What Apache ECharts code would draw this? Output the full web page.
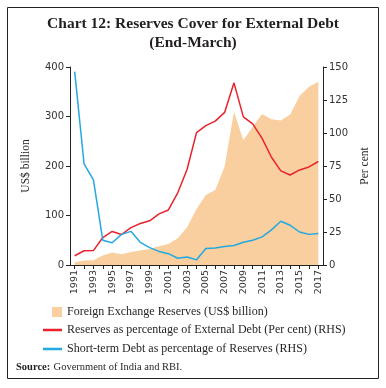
<!DOCTYPE html>
<html><head><meta charset="utf-8">
<script src="https://cdn.jsdelivr.net/npm/echarts@6/dist/echarts.min.js"></script>
<style>html,body{margin:0;padding:0;background:#fff}#c{width:386px;height:388px}</style>
</head><body><div id="c"></div>
<script>
const years = ['1991','1992','1993','1994','1995','1996','1997','1998','1999','2000','2001','2002','2003','2004','2005','2006','2007','2008','2009','2010','2011','2012','2013','2014','2015','2016','2017'];
const reserves = [5.8,9.2,9.8,19.3,25.2,21.7,26.4,29.4,32.5,38.0,42.3,54.1,76.1,113.0,141.5,151.6,199.2,309.7,252.0,279.1,304.8,294.4,292.0,304.2,341.6,360.2,370.0];
const reservesToDebt = [7.0,10.8,10.9,20.8,25.4,23.1,28.3,31.4,33.5,38.7,41.7,54.7,72.5,100.3,105.6,109.0,115.6,138.0,112.2,106.9,95.9,81.6,71.3,68.2,72.0,74.3,78.4];
const shortTermToReserves = [146.5,76.7,64.5,18.8,16.9,23.2,25.5,17.2,13.2,10.3,8.6,5.1,6.1,3.9,12.5,12.9,14.1,14.8,17.2,18.8,21.3,26.6,33.1,30.1,25.0,23.2,23.8];
const leftTicks = [0,100,200,300,400];
const rightTicks = [0,25,50,75,100,125,150];

const serif = '"Liberation Serif","DejaVu Serif",serif';
const sans = '"DejaVu Sans",sans-serif';
const chart = echarts.init(document.getElementById('c'));
chart.setOption({
  animation: false,
  backgroundColor: '#fff',
  graphic: [
    {type:'rect', shape:{x:7.5,y:7.5,width:371,height:371}, style:{fill:'none',stroke:'#222',lineWidth:1}, silent:true},
    {type:'text', left:'center', top:16, style:{text:'Chart 12: Reserves Cover for External Debt', font:'bold 15.5px '+serif, fill:'#231f20'}},
    {type:'text', left:'center', top:35, style:{text:'(End-March)', font:'bold 15.5px '+serif, fill:'#231f20'}},
    {type:'text', left:16, top:361, style:{rich:{b:{fontFamily:serif,fontWeight:'bold',fontSize:10.5,fill:'#231f20'},n:{fontFamily:serif,fontSize:10.5,fill:'#231f20'}}, text:'{b|Source:} {n|Government of India and RBI.}'}}
  ],
  grid: {left:70, right:63, top:67, bottom:123, containLabel:false},
  legend: [
    {data:[{name:'Foreign Exchange Reserves (US$ billion)', icon:'rect'}], left:47, top:301, itemWidth:10, itemHeight:10, itemGap:0, textStyle:{fontFamily:serif,fontSize:12,color:'#231f20'}},
    {orient:'vertical', data:[{name:'Reserves as percentage of External Debt (Per cent) (RHS)', icon:'rect'},{name:'Short-term Debt as percentage of Reserves (RHS)', icon:'rect'}], left:38, top:319, itemWidth:19, itemHeight:2.5, itemGap:7, textStyle:{fontFamily:serif,fontSize:12,color:'#231f20'}}
  ],
  xAxis: {
    type:'category', data:years, boundaryGap:true,
    axisLine:{lineStyle:{color:'#222',width:1}},
    axisTick:{show:true, interval:0, alignWithLabel:true, length:4, lineStyle:{color:'#222'}},
    axisLabel:{interval:1, rotate:90, fontFamily:sans, fontSize:9.5, color:'#333', margin:5}
  },
  yAxis: [
    {type:'value', min:0, max:400, interval:100, position:'left',
     name:'US$ billion', nameLocation:'middle', nameGap:38, nameRotate:90,
     nameTextStyle:{fontFamily:serif,fontSize:11.5,color:'#231f20'},
     axisLine:{show:true,lineStyle:{color:'#222'}}, axisTick:{show:true,length:4,lineStyle:{color:'#222'}},
     axisLabel:{fontFamily:sans,fontSize:10,color:'#333',margin:6, formatter:v=>leftTicks.includes(v)?String(v):''},
     splitLine:{show:false}},
    {type:'value', min:0, max:150, interval:25, position:'right',
     name:'Per cent', nameLocation:'middle', nameGap:32, nameRotate:90,
     nameTextStyle:{fontFamily:serif,fontSize:11.5,color:'#231f20'},
     axisLine:{show:true,lineStyle:{color:'#222'}}, axisTick:{show:true,length:4,lineStyle:{color:'#222'}},
     axisLabel:{fontFamily:sans,fontSize:10,color:'#333',margin:6, formatter:v=>rightTicks.includes(v)?String(v):''},
     splitLine:{show:false}}
  ],
  series: [
    {name:'Foreign Exchange Reserves (US$ billion)', type:'line', yAxisIndex:0, data:reserves, symbol:'none',
     lineStyle:{width:0,color:'#f9cf9f'}, itemStyle:{color:'#f9cf9f'}, areaStyle:{color:'#f9cf9f',opacity:1}, z:1},
    {name:'Reserves as percentage of External Debt (Per cent) (RHS)', type:'line', yAxisIndex:1, data:reservesToDebt, symbol:'none',
     lineStyle:{width:1.5,color:'#e8232b'}, itemStyle:{color:'#e8232b'}, z:3},
    {name:'Short-term Debt as percentage of Reserves (RHS)', type:'line', yAxisIndex:1, data:shortTermToReserves, symbol:'none',
     lineStyle:{width:1.5,color:'#22a9e1'}, itemStyle:{color:'#22a9e1'}, z:3}
  ]
});
</script></body></html>
